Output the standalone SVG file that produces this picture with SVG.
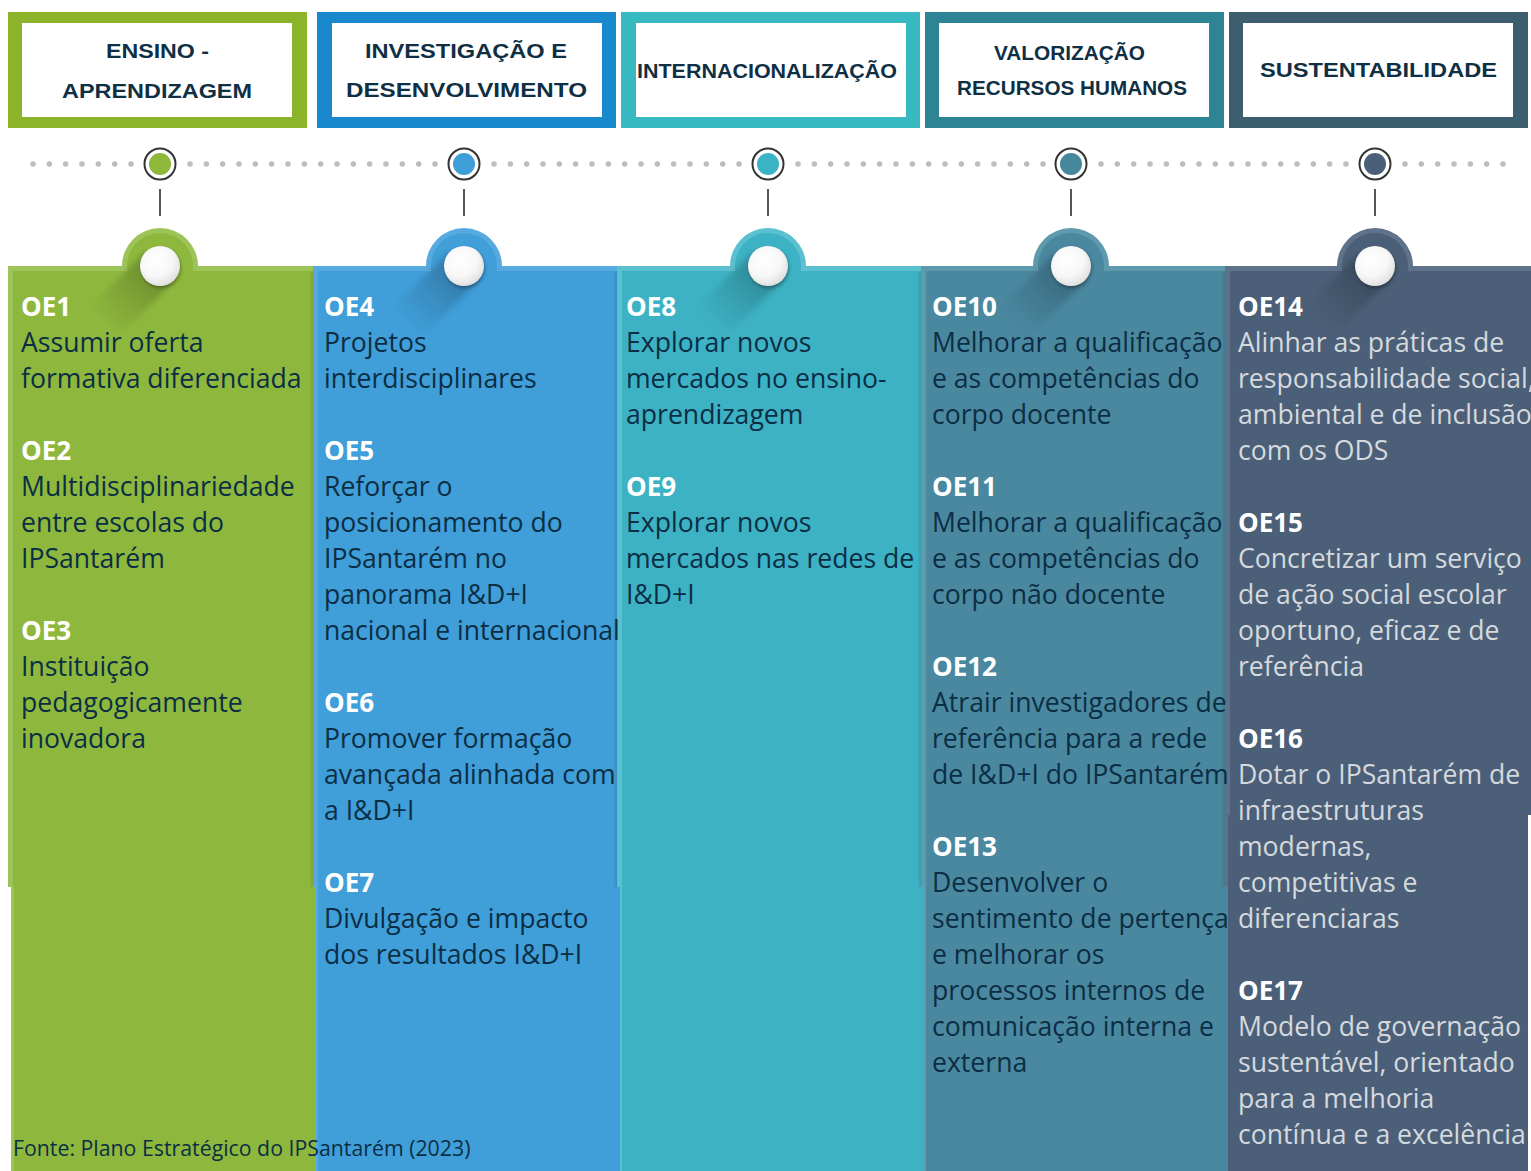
<svg xmlns="http://www.w3.org/2000/svg" width="1531" height="1171" viewBox="0 0 1531 1171">
<defs>
<style>
.hdr{font-family:"Liberation Sans",Arial,sans-serif;font-weight:bold;font-size:21px;fill:#0F2F45;}
.ttl{font-family:"Open Sans","Noto Sans",sans-serif;font-weight:bold;font-size:26px;fill:#FFFFFF;}
.bd{font-family:"Open Sans","Noto Sans",sans-serif;font-size:26.6px;fill:#0C2E44;}
.bdl{font-family:"Open Sans","Noto Sans",sans-serif;font-size:26.6px;fill:#D5D9DE;}
.src{font-family:"Open Sans","Noto Sans",sans-serif;font-size:21.3px;fill:#0C2E44;}
.dots{stroke:#BDBDBD;stroke-width:5.5;stroke-linecap:round;stroke-dasharray:0 16.333;fill:none;}
.stem{stroke:#555555;stroke-width:2;}
.ring{fill:#FFFFFF;stroke:#333333;stroke-width:2;}
</style>
<linearGradient id="lsh" x1="1" y1="0" x2="0" y2="1">
<stop offset="0.3" stop-color="#000" stop-opacity="0.2"/>
<stop offset="0.55" stop-color="#000" stop-opacity="0.1"/>
<stop offset="0.85" stop-color="#000" stop-opacity="0"/>
</linearGradient>
<radialGradient id="knob" cx="0.4" cy="0.35" r="0.7">
<stop offset="0" stop-color="#FFFFFF"/>
<stop offset="0.6" stop-color="#F7F7F7"/>
<stop offset="1" stop-color="#DCDCDC"/>
</radialGradient>
<linearGradient id="rsh" x1="0" y1="0" x2="1" y2="0">
<stop offset="0" stop-color="#000" stop-opacity="0"/>
<stop offset="1" stop-color="#000" stop-opacity="0.12"/>
</linearGradient>
<filter id="blur" x="-50%" y="-50%" width="200%" height="200%"><feGaussianBlur stdDeviation="1.5"/></filter>
<filter id="sblur" x="-20%" y="-20%" width="140%" height="140%"><feGaussianBlur stdDeviation="3"/></filter>
</defs>
<rect x="0" y="0" width="1531" height="1171" fill="#FFFFFF"/>

<!-- Headers -->
<g id="hdr-ensino">
<rect x="8" y="12" width="299" height="116" fill="#8BB42B"/>
<rect x="22" y="23" width="270" height="94" fill="#FFFFFF"/>
<text class="hdr" x="157.5" y="58" text-anchor="middle" textLength="103" lengthAdjust="spacingAndGlyphs">ENSINO -</text>
<text class="hdr" x="157" y="98" text-anchor="middle" textLength="190" lengthAdjust="spacingAndGlyphs">APRENDIZAGEM</text>
</g>
<g id="hdr-investigacao">
<rect x="317" y="12" width="299" height="116" fill="#1A88CC"/>
<rect x="332" y="23" width="270" height="94" fill="#FFFFFF"/>
<text class="hdr" x="466" y="58" text-anchor="middle" textLength="202" lengthAdjust="spacingAndGlyphs">INVESTIGAÇÃO E</text>
<text class="hdr" x="466.5" y="97" text-anchor="middle" textLength="241" lengthAdjust="spacingAndGlyphs">DESENVOLVIMENTO</text>
</g>
<g id="hdr-internacionalizacao">
<rect x="621" y="12" width="299" height="116" fill="#38B9C2"/>
<rect x="636" y="23" width="270" height="94" fill="#FFFFFF"/>
<text class="hdr" x="767" y="78" text-anchor="middle" textLength="260" lengthAdjust="spacingAndGlyphs">INTERNACIONALIZAÇÃO</text>
</g>
<g id="hdr-valorizacao">
<rect x="925" y="12" width="299" height="116" fill="#2D8494"/>
<rect x="939" y="23" width="270" height="94" fill="#FFFFFF"/>
<text class="hdr" x="1069.5" y="60" text-anchor="middle" font-size="19.5" textLength="151" lengthAdjust="spacingAndGlyphs">VALORIZAÇÃO</text>
<text class="hdr" x="1072" y="95" text-anchor="middle" font-size="19.5" textLength="230" lengthAdjust="spacingAndGlyphs">RECURSOS HUMANOS</text>
</g>
<g id="hdr-sustentabilidade">
<rect x="1229" y="12" width="299" height="116" fill="#3D5E6E"/>
<rect x="1243" y="23" width="270" height="94" fill="#FFFFFF"/>
<text class="hdr" x="1378.5" y="77" text-anchor="middle" textLength="237" lengthAdjust="spacingAndGlyphs">SUSTENTABILIDADE</text>
</g>

<!-- Connectors: timeline and stems -->
<g id="connectors">
<line class="dots" x1="33" y1="164" x2="131.5" y2="164"/>
<line class="dots" x1="190" y1="164" x2="435.5" y2="164"/>
<line class="dots" x1="494" y1="164" x2="739.5" y2="164"/>
<line class="dots" x1="798" y1="164" x2="1043.5" y2="164"/>
<line class="dots" x1="1101" y1="164" x2="1346.5" y2="164"/>
<line class="dots" x1="1405" y1="164" x2="1503.5" y2="164"/>
<line class="stem" x1="160" y1="189" x2="160" y2="216"/>
<line class="stem" x1="464" y1="189" x2="464" y2="216"/>
<line class="stem" x1="768" y1="189" x2="768" y2="216"/>
<line class="stem" x1="1071" y1="189" x2="1071" y2="216"/>
<line class="stem" x1="1375" y1="189" x2="1375" y2="216"/>
</g>

<!-- Timeline markers -->
<g id="marker-1"><circle class="ring" cx="160" cy="164" r="15.5"/><circle cx="160" cy="164" r="11" fill="#8DB83A"/></g>
<g id="marker-2"><circle class="ring" cx="464" cy="164" r="15.5"/><circle cx="464" cy="164" r="11" fill="#3F9DD8"/></g>
<g id="marker-3"><circle class="ring" cx="768" cy="164" r="15.5"/><circle cx="768" cy="164" r="11" fill="#3AB4C5"/></g>
<g id="marker-4"><circle class="ring" cx="1071" cy="164" r="15.5"/><circle cx="1071" cy="164" r="11" fill="#45879D"/></g>
<g id="marker-5"><circle class="ring" cx="1375" cy="164" r="15.5"/><circle cx="1375" cy="164" r="11" fill="#4A6079"/></g>

<!-- Panels -->
<g id="panel-5">
<rect x="1225" y="815" width="303" height="356" fill="#5E728A"/>
<rect x="1228" y="815" width="300" height="356" fill="#4B6078"/>
<path d="M1225,815 V266 H1337 A38,38 0 0 1 1413,266 H1531 V815 Z" fill="#5E728A"/>
<path d="M1230,815 V271 H1342.4 A33,33 0 1 1 1407.6,271 H1531 V815 Z" fill="#4B6078"/>
<polygon points="1360.5,251.5 1389.5,280.5 1332.5,337.5 1303.5,308.5" fill="url(#lsh)" filter="url(#sblur)"/>
<circle cx="1376" cy="268" r="20.5" fill="#000" opacity="0.25" filter="url(#blur)"/>
<circle cx="1375" cy="266" r="20" fill="url(#knob)"/>
</g>
<g id="panel-1">
<path d="M8,887 V266 H122 A38,38 0 0 1 198,266 H313 V887 Z" fill="#9DC458"/>
<path d="M13,887 V271 H127.4 A33,33 0 1 1 192.6,271 H313 V887 Z" fill="#8EB83D"/>
<rect x="309" y="271" width="4" height="616" fill="url(#rsh)"/>
<rect x="11" y="887" width="305" height="284" fill="#9DC458"/>
<rect x="14" y="887" width="302" height="284" fill="#8EB83D"/>
<polygon points="145.5,251.5 174.5,280.5 117.5,337.5 88.5,308.5" fill="url(#lsh)" filter="url(#sblur)"/>
<circle cx="161" cy="268" r="20.5" fill="#000" opacity="0.25" filter="url(#blur)"/>
<circle cx="160" cy="266" r="20" fill="url(#knob)"/>
</g>
<g id="panel-2">
<path d="M313,887 V266 H426 A38,38 0 0 1 502,266 H617 V887 Z" fill="#56AAE0"/>
<path d="M318,887 V271 H431.4 A33,33 0 1 1 496.6,271 H617 V887 Z" fill="#409ED9"/>
<rect x="613" y="271" width="4" height="616" fill="url(#rsh)"/>
<rect x="316" y="887" width="304" height="284" fill="#56AAE0"/>
<rect x="318" y="887" width="302" height="284" fill="#409ED9"/>
<polygon points="449.5,251.5 478.5,280.5 421.5,337.5 392.5,308.5" fill="url(#lsh)" filter="url(#sblur)"/>
<circle cx="465" cy="268" r="20.5" fill="#000" opacity="0.25" filter="url(#blur)"/>
<circle cx="464" cy="266" r="20" fill="url(#knob)"/>
</g>
<g id="panel-3">
<path d="M617,887 V266 H730 A38,38 0 0 1 806,266 H921 V887 Z" fill="#5BC0CF"/>
<path d="M622,887 V271 H735.4 A33,33 0 1 1 800.6,271 H921 V887 Z" fill="#3DB2C4"/>
<rect x="917" y="271" width="4" height="616" fill="url(#rsh)"/>
<rect x="620" y="887" width="304" height="284" fill="#5BC0CF"/>
<rect x="622" y="887" width="302" height="284" fill="#3DB2C4"/>
<polygon points="753.5,251.5 782.5,280.5 725.5,337.5 696.5,308.5" fill="url(#lsh)" filter="url(#sblur)"/>
<circle cx="769" cy="268" r="20.5" fill="#000" opacity="0.25" filter="url(#blur)"/>
<circle cx="768" cy="266" r="20" fill="url(#knob)"/>
</g>
<g id="panel-4">
<path d="M921,887 V266 H1033 A38,38 0 0 1 1109,266 H1225 V887 Z" fill="#5F99AD"/>
<path d="M926,887 V271 H1038.4 A33,33 0 1 1 1103.6,271 H1225 V887 Z" fill="#4A88A0"/>
<rect x="1221" y="271" width="4" height="616" fill="url(#rsh)"/>
<rect x="924" y="887" width="304" height="284" fill="#5F99AD"/>
<rect x="926" y="887" width="302" height="284" fill="#4A88A0"/>
<polygon points="1056.5,251.5 1085.5,280.5 1028.5,337.5 999.5,308.5" fill="url(#lsh)" filter="url(#sblur)"/>
<circle cx="1072" cy="268" r="20.5" fill="#000" opacity="0.25" filter="url(#blur)"/>
<circle cx="1071" cy="266" r="20" fill="url(#knob)"/>
</g>

<!-- Column texts -->
<g id="text-col1">
<text class="ttl" x="21" y="316">OE1</text>
<text class="bd"><tspan x="21" y="352">Assumir oferta</tspan><tspan x="21" y="388">formativa diferenciada</tspan></text>
<text class="ttl" x="21" y="460">OE2</text>
<text class="bd"><tspan x="21" y="496">Multidisciplinariedade</tspan><tspan x="21" y="532">entre escolas do</tspan><tspan x="21" y="568">IPSantarém</tspan></text>
<text class="ttl" x="21" y="640">OE3</text>
<text class="bd"><tspan x="21" y="676">Instituição</tspan><tspan x="21" y="712">pedagogicamente</tspan><tspan x="21" y="748">inovadora</tspan></text>
</g>
<g id="text-col2">
<text class="ttl" x="324" y="316">OE4</text>
<text class="bd"><tspan x="324" y="352">Projetos</tspan><tspan x="324" y="388">interdisciplinares</tspan></text>
<text class="ttl" x="324" y="460">OE5</text>
<text class="bd"><tspan x="324" y="496">Reforçar o</tspan><tspan x="324" y="532">posicionamento do</tspan><tspan x="324" y="568">IPSantarém no</tspan><tspan x="324" y="604">panorama I&amp;D+I</tspan><tspan x="324" y="640">nacional e internacional</tspan></text>
<text class="ttl" x="324" y="712">OE6</text>
<text class="bd"><tspan x="324" y="748">Promover formação</tspan><tspan x="324" y="784">avançada alinhada com</tspan><tspan x="324" y="820">a I&amp;D+I</tspan></text>
<text class="ttl" x="324" y="892">OE7</text>
<text class="bd"><tspan x="324" y="928">Divulgação e impacto</tspan><tspan x="324" y="964">dos resultados I&amp;D+I</tspan></text>
</g>
<g id="text-col3">
<text class="ttl" x="626" y="316">OE8</text>
<text class="bd"><tspan x="626" y="352">Explorar novos</tspan><tspan x="626" y="388">mercados no ensino-</tspan><tspan x="626" y="424">aprendizagem</tspan></text>
<text class="ttl" x="626" y="496">OE9</text>
<text class="bd"><tspan x="626" y="532">Explorar novos</tspan><tspan x="626" y="568">mercados nas redes de</tspan><tspan x="626" y="604">I&amp;D+I</tspan></text>
</g>
<g id="text-col4">
<text class="ttl" x="932" y="316">OE10</text>
<text class="bd"><tspan x="932" y="352">Melhorar a qualificação</tspan><tspan x="932" y="388">e as competências do</tspan><tspan x="932" y="424">corpo docente</tspan></text>
<text class="ttl" x="932" y="496">OE11</text>
<text class="bd"><tspan x="932" y="532">Melhorar a qualificação</tspan><tspan x="932" y="568">e as competências do</tspan><tspan x="932" y="604">corpo não docente</tspan></text>
<text class="ttl" x="932" y="676">OE12</text>
<text class="bd"><tspan x="932" y="712">Atrair investigadores de</tspan><tspan x="932" y="748">referência para a rede</tspan><tspan x="932" y="784">de I&amp;D+I do IPSantarém</tspan></text>
<text class="ttl" x="932" y="856">OE13</text>
<text class="bd"><tspan x="932" y="892">Desenvolver o</tspan><tspan x="932" y="928">sentimento de pertença</tspan><tspan x="932" y="964">e melhorar os</tspan><tspan x="932" y="1000">processos internos de</tspan><tspan x="932" y="1036">comunicação interna e</tspan><tspan x="932" y="1072">externa</tspan></text>
</g>
<g id="text-col5">
<text class="ttl" x="1238" y="316">OE14</text>
<text class="bdl"><tspan x="1238" y="352">Alinhar as práticas de</tspan><tspan x="1238" y="388">responsabilidade social,</tspan><tspan x="1238" y="424">ambiental e de inclusão</tspan><tspan x="1238" y="460">com os ODS</tspan></text>
<text class="ttl" x="1238" y="532">OE15</text>
<text class="bdl"><tspan x="1238" y="568">Concretizar um serviço</tspan><tspan x="1238" y="604">de ação social escolar</tspan><tspan x="1238" y="640">oportuno, eficaz e de</tspan><tspan x="1238" y="676">referência</tspan></text>
<text class="ttl" x="1238" y="748">OE16</text>
<text class="bdl"><tspan x="1238" y="784">Dotar o IPSantarém de</tspan><tspan x="1238" y="820">infraestruturas</tspan><tspan x="1238" y="856">modernas,</tspan><tspan x="1238" y="892">competitivas e</tspan><tspan x="1238" y="928">diferenciaras</tspan></text>
<text class="ttl" x="1238" y="1000">OE17</text>
<text class="bdl"><tspan x="1238" y="1036">Modelo de governação</tspan><tspan x="1238" y="1072">sustentável, orientado</tspan><tspan x="1238" y="1108">para a melhoria</tspan><tspan x="1238" y="1144">contínua e a excelência</tspan></text>
</g>
<text id="source" class="src" x="13" y="1156">Fonte: Plano Estratégico do IPSantarém (2023)</text>
</svg>
